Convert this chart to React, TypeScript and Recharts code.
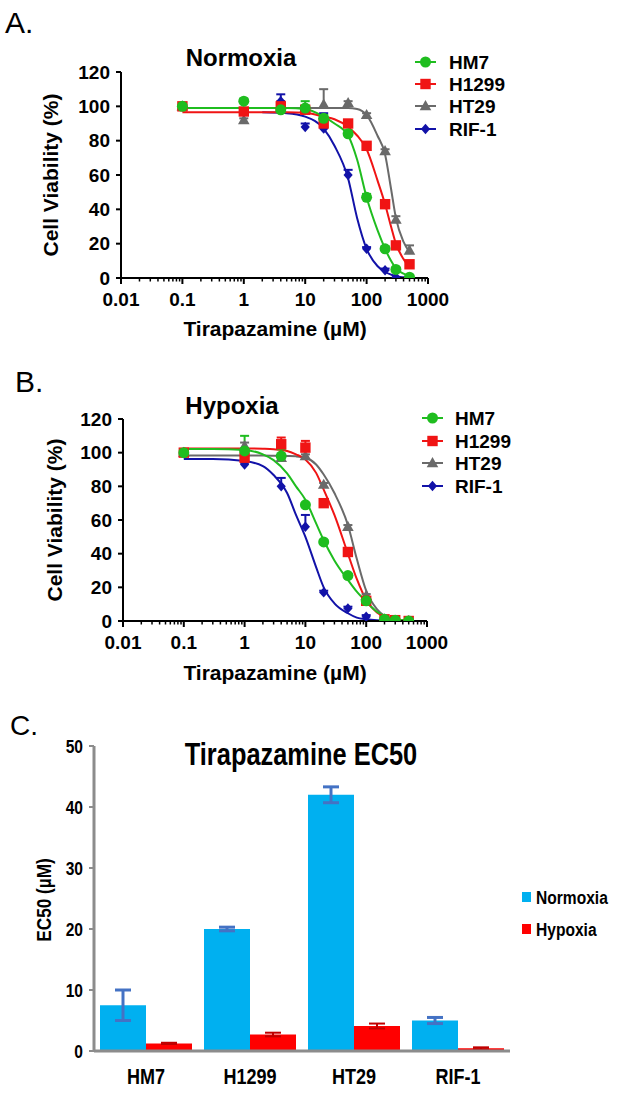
import React from 'react';
import { ComposedChart, Line, Scatter, XAxis, YAxis, ErrorBar, BarChart, Bar } from 'recharts';

const FONT = "'Liberation Sans', Arial, Helvetica, sans-serif";

// ---------- shared ----------
const cellLines = ['HM7', 'H1299', 'HT29', 'RIF-1'];
const lineColors = ['#1fbd1f', '#f01414', '#6a6a6a', '#1212a8'];
const majorTicks = [0.01, 0.1, 1, 10, 100, 1000];
const majorTickLabels = ['0.01', '0.1', '1', '10', '100', '1000'];
const minorMultipliers = [2, 3, 4, 5, 6, 7, 8, 9];
const yTicksViability = [0, 20, 40, 60, 80, 100, 120];

// ---------- measured doses (µM) ----------
const doses = [0.1, 1, 4, 10, 20, 50, 100, 200, 300, 500];

// Normoxia: mean viability (%) and upper error
const normHM7 = [100, 103, 98, 99, 93, 84, 47, 17, 5, 0.5];
const normHM7Err = [1, 1.5, 2, 4, 2, 2, 2, 1.5, 1, 0.5];
const normH1299 = [100, 97, 100, 98, 90, 90, 77, 43, 19, 8];
const normH1299Err = [0.5, 1, 3, 1, 1, 1, 1, 1, 1, 1];
const normHT29 = [100, 92, 99, 99, 101, 102, 95, 74, 34, 16];
const normHT29Err = [0.5, 1, 1, 1, 9, 1, 1, 1, 2, 3];
const normRIF1 = [100, 97, 103, 88, 87, 60, 17, 4.5, 0.5, 0];
const normRIF1Err = [0.5, 1, 4, 2, 9, 3, 1, 1, 0, 0];

// Hypoxia
const hypHM7 = [100, 101, 98, 69, 47, 27, 12, 1, 0.5, 0];
const hypHM7Err = [0.5, 9, 4, 1, 1, 1, 1, 0, 0, 0];
const hypH1299 = [100, 97, 105, 103, 70, 41, 12, 1, 0.5, 0];
const hypH1299Err = [0.5, 1, 4, 4, 1, 1, 1, 0, 0, 0];
const hypHT29 = [100, 104, 97, 98, 81, 56, 15, 1, 0, 0];
const hypHT29Err = [0.5, 2, 1, 1, 1, 1, 1, 0, 0, 0];
const hypRIF1 = [100, 93, 80, 56, 17, 7.5, 2.5, 0, 0, 0];
const hypRIF1Err = [0.5, 1, 5, 7, 1, 1, 1, 0, 0, 0];

// Fitted curves
const normCurveX = [0.1, 1, 2, 5, 10, 20, 30, 50, 70, 100, 150, 200, 250, 300, 400, 500];
const normCurveHM7 = [99, 99, 99, 99, 98.5, 94, 90, 83, 69, 47, 28, 17, 10, 5.6, 2.5, 1];
const normCurveH1299 = [96.5, 96.5, 96.5, 96.5, 96.3, 94, 92.5, 88, 83, 75, 57, 43, 30, 20, 11, 6.5];
const normCurveHT29 = [99, 99, 99, 99, 99, 99, 99, 99, 98.5, 95, 83, 72, 52, 35, 21, 15];
const normCurveRIF1 = [null, null, 96.5, 96, 94, 87, 77, 58, 35, 17, 7, 3.5, 2, 1, 0.4, 0.2];

const hypCurveX = [0.1, 0.3, 1, 2, 3, 5, 7, 10, 15, 20, 30, 50, 70, 100, 150, 200, 300, 500];
const hypCurveHM7 = [102.2, 102.2, 101.6, 99, 95.6, 87.7, 80, 72, 58, 48, 36, 24.4, 17.4, 11.5, 5.5, 3, 1, 0.3];
const hypCurveH1299 = [102.5, 102.5, 102.5, 102.3, 102, 101, 99, 96, 88, 78, 63, 40, 25, 12.5, 5, 2.5, 1, 0.3];
const hypCurveHT29 = [98.3, 98.3, 98.3, 98.3, 98.2, 98, 97.8, 97, 93, 87, 76, 57, 37, 18, 7, 3, 1, 0.3];
const hypCurveRIF1 = [96.2, 96.2, 95, 92, 86.7, 76, 63, 50, 32, 20, 10.5, 4.6, 2, 1, 0.4, 0.2, 0.1, 0];

// ---------- EC50 ----------
const ec50Categories = ['HM7', 'H1299', 'HT29', 'RIF-1'];
const ec50Normoxia = [7.5, 20, 42, 5.0];
const ec50NormoxiaErr = [2.5, 0.3, 1.3, 0.5];
const ec50Hypoxia = [1.25, 2.7, 4.1, 0.45];
const ec50HypoxiaErr = [0.1, 0.3, 0.4, 0.15];
const ec50Ticks = [0, 10, 20, 30, 40, 50];

// ---------- helpers ----------
const logTicks: number[] = [];
majorTicks.forEach((m, i) => {
  logTicks.push(m);
  if (i < majorTicks.length - 1) minorMultipliers.forEach((k) => logTicks.push(+(m * k).toPrecision(3)));
});

const points = (vals: number[], errs: number[]) =>
  doses.map((x, i) => ({ x, y: vals[i], err: [0, errs[i]] }));
const caps = (vals: number[], errs: number[]) =>
  doses.map((x, i) => ({ x, y: vals[i] + errs[i], e: errs[i] })).filter((p) => p.e > 0.6);
const curve = (xs: number[], vals: (number | null)[]) =>
  xs.map((x, i) => ({ x, y: vals[i] })).filter((p) => p.y !== null);

const shapeCircle = (c: string) => (p: any) => <circle cx={p.cx} cy={p.cy} r={5.5} fill={c} />;
const shapeSquare = (c: string) => (p: any) => <rect x={p.cx - 5.2} y={p.cy - 5.2} width={10.4} height={10.4} fill={c} />;
const shapeTriangle = (c: string) => (p: any) => (
  <polygon points={`${p.cx},${p.cy - 6} ${p.cx + 5.8},${p.cy + 4.2} ${p.cx - 5.8},${p.cy + 4.2}`} fill={c} />
);
const shapeDiamond = (c: string) => (p: any) => (
  <polygon points={`${p.cx},${p.cy - 5.2} ${p.cx + 4.6},${p.cy} ${p.cx},${p.cy + 5.2} ${p.cx - 4.6},${p.cy}`} fill={c} />
);
const shapes = [shapeCircle, shapeSquare, shapeTriangle, shapeDiamond];
const capShape = (c: string) => (p: any) => (
  <line x1={p.cx - 4.5} x2={p.cx + 4.5} y1={p.cy} y2={p.cy} stroke={c} strokeWidth={2} />
);

const LogTick = (props: any) => {
  const { x, y, payload } = props;
  const idx = majorTicks.indexOf(payload.value);
  const major = idx >= 0;
  return (
    <g>
      <line x1={x} x2={x} y1={y} y2={y + (major ? 6 : 3.5)} stroke="#000" strokeWidth={major ? 2 : 1.5} />
      {major && (
        <text x={x} y={y + 28} textAnchor="middle" fontSize={19} fontWeight="bold" fill="#000" fontFamily={FONT}>
          {majorTickLabels[idx]}
        </text>
      )}
    </g>
  );
};

// condensed bold text (narrow face emulated by horizontal scaling)
const Narrow = ({ x, y, size, anchor, rotate, children }: any) => (
  <text
    transform={`translate(${x},${y})${rotate ? ' rotate(-90)' : ''} scale(0.82,1)`}
    textAnchor={anchor || 'start'}
    fontSize={size}
    fontWeight="bold"
    fill="#000"
    fontFamily={FONT}
  >
    {children}
  </text>
);

const CatTick = (props: any) => {
  const { x, y, payload } = props;
  return (
    <Narrow x={x} y={y + 33} size={22} anchor="middle">
      {payload.value}
    </Narrow>
  );
};

const EcYTick = (props: any) => {
  const { x, y, payload } = props;
  return (
    <Narrow x={x} y={y + 6.5} size={19} anchor="end">
      {payload.value}
    </Narrow>
  );
};

type Panel = {
  curves: { x: number; y: number | null }[][];
  pts: { x: number; y: number; err: number[] }[][];
  caps: { x: number; y: number }[][];
};

const normPanel: Panel = {
  curves: [
    curve(normCurveX, normCurveHM7),
    curve(normCurveX, normCurveH1299),
    curve(normCurveX, normCurveHT29),
    curve(normCurveX, normCurveRIF1),
  ],
  pts: [
    points(normHM7, normHM7Err),
    points(normH1299, normH1299Err),
    points(normHT29, normHT29Err),
    points(normRIF1, normRIF1Err),
  ],
  caps: [
    caps(normHM7, normHM7Err),
    caps(normH1299, normH1299Err),
    caps(normHT29, normHT29Err),
    caps(normRIF1, normRIF1Err),
  ],
};
const hypPanel: Panel = {
  curves: [
    curve(hypCurveX, hypCurveHM7),
    curve(hypCurveX, hypCurveH1299),
    curve(hypCurveX, hypCurveHT29),
    curve(hypCurveX, hypCurveRIF1),
  ],
  pts: [
    points(hypHM7, hypHM7Err),
    points(hypH1299, hypH1299Err),
    points(hypHT29, hypHT29Err),
    points(hypRIF1, hypRIF1Err),
  ],
  caps: [
    caps(hypHM7, hypHM7Err),
    caps(hypH1299, hypH1299Err),
    caps(hypHT29, hypHT29Err),
    caps(hypRIF1, hypRIF1Err),
  ],
};

const drawOrder = [2, 3, 1, 0];

function ViabilityChart({ panel, margin, xHeight }: { panel: Panel; margin: any; xHeight: number }) {
  return (
    <ComposedChart width={644} height={345} margin={margin}>
      <XAxis
        dataKey="x"
        type="number"
        scale="log"
        domain={[0.01, 1000]}
        allowDataOverflow
        ticks={logTicks}
        interval={0}
        tick={<LogTick />}
        tickLine={false}
        tickSize={0}
        tickMargin={0}
        axisLine={{ stroke: '#000', strokeWidth: 2 }}
        height={xHeight}
      />
      <YAxis
        type="number"
        domain={[0, 120]}
        allowDataOverflow
        ticks={yTicksViability}
        interval={0}
        width={60}
        tickSize={5}
        tickMargin={6}
        tickLine={{ stroke: '#000', strokeWidth: 2 }}
        axisLine={{ stroke: '#000', strokeWidth: 2 }}
        tick={{ fontSize: 19, fontWeight: 'bold', fill: '#000', fontFamily: FONT }}
      />
      {drawOrder.map((i) => (
        <Line
          key={'c' + i}
          data={panel.curves[i]}
          dataKey="y"
          type="monotone"
          stroke={lineColors[i]}
          strokeWidth={2}
          dot={false}
          isAnimationActive={false}
        />
      ))}
      {drawOrder.map((i) => (
        <Scatter
          key={'e' + i}
          data={panel.caps[i]}
          dataKey="y"
          shape={capShape(lineColors[i])}
          isAnimationActive={false}
        />
      ))}
      {drawOrder.map((i) => (
        <Scatter
          key={'s' + i}
          data={panel.pts[i]}
          dataKey="y"
          shape={shapes[i](lineColors[i])}
          isAnimationActive={false}
        >
          <ErrorBar dataKey="err" direction="y" width={0} strokeWidth={2} stroke={lineColors[i]} />
        </Scatter>
      ))}
    </ComposedChart>
  );
}

const ec50Data = ec50Categories.map((c, i) => ({
  name: c,
  normoxia: ec50Normoxia[i],
  normoxiaErr: ec50NormoxiaErr[i],
  hypoxia: ec50Hypoxia[i],
  hypoxiaErr: ec50HypoxiaErr[i],
}));

function LegendLines({ x, text, rows }: { x: number; text: number; rows: number[] }) {
  return (
    <g>
      {cellLines.map((name, i) => {
        const y = rows[i];
        const cx = x + 10.5;
        const s = shapes[i](lineColors[i])({ cx, cy: y });
        return (
          <g key={name}>
            <line x1={x} x2={x + 21} y1={y} y2={y} stroke={lineColors[i]} strokeWidth={2} />
            {s}
            <text x={text} y={y + 7} fontSize={19} fontWeight="bold" fill="#000" fontFamily={FONT}>
              {name}
            </text>
          </g>
        );
      })}
    </g>
  );
}

export default function App() {
  return (
    <div style={{ position: 'absolute', left: 0, top: 0, width: 644, height: 1093, background: '#fff' }}>
      <div style={{ position: 'absolute', left: 0, top: 0 }}>
        <ViabilityChart panel={normPanel} margin={{ top: 72, right: 216, bottom: 0, left: 61 }} xHeight={67} />
      </div>
      <div style={{ position: 'absolute', left: 0, top: 330 }}>
        <ViabilityChart panel={hypPanel} margin={{ top: 89, right: 217, bottom: 0, left: 63 }} xHeight={54} />
      </div>
      <div style={{ position: 'absolute', left: 0, top: 660 }}>
        <BarChart
          width={644}
          height={433}
          data={ec50Data}
          margin={{ top: 86, right: 134, bottom: 0, left: 34 }}
          barCategoryGap={6}
          barGap={0}
        >
          <XAxis
            dataKey="name"
            tick={<CatTick />}
            tickLine={false}
            tickSize={0}
            tickMargin={0}
            axisLine={{ stroke: '#8c8c8c', strokeWidth: 3 }}
            height={42}
            interval={0}
          />
          <YAxis
            type="number"
            domain={[0, 50]}
            ticks={ec50Ticks}
            interval={0}
            width={60}
            tickSize={5}
            tickMargin={6}
            tickLine={{ stroke: '#8c8c8c', strokeWidth: 2 }}
            axisLine={{ stroke: '#8c8c8c', strokeWidth: 3 }}
            tick={<EcYTick />}
          />
          <Bar dataKey="normoxia" fill="#00b0f0" isAnimationActive={false}>
            <ErrorBar dataKey="normoxiaErr" direction="y" width={8} strokeWidth={3} stroke="#4472c4" />
          </Bar>
          <Bar dataKey="hypoxia" fill="#ff0000" isAnimationActive={false}>
            <ErrorBar dataKey="hypoxiaErr" direction="y" width={8} strokeWidth={2} stroke="#c00000" />
          </Bar>
        </BarChart>
      </div>
      <svg
        width={644}
        height={1093}
        style={{ position: 'absolute', left: 0, top: 0, pointerEvents: 'none' }}
      >
        {/* Panel A */}
        <text x={5} y={33} fontSize={30} fill="#000" fontFamily={FONT}>A.</text>
        <text x={241} y={66} textAnchor="middle" fontSize={24} fontWeight="bold" fill="#000" fontFamily={FONT}>Normoxia</text>
        <text transform="translate(58,175) rotate(-90)" textAnchor="middle" fontSize={21} fontWeight="bold" fill="#000" fontFamily={FONT}>Cell Viability (%)</text>
        <text x={275} y={336} textAnchor="middle" fontSize={21} fontWeight="bold" fill="#000" fontFamily={FONT}>Tirapazamine (µM)</text>
        <LegendLines x={415} text={449} rows={[62, 84, 106, 129]} />

        {/* Panel B */}
        <text x={15} y={392} fontSize={30} fill="#000" fontFamily={FONT}>B.</text>
        <text x={232} y={414} textAnchor="middle" fontSize={24} fontWeight="bold" fill="#000" fontFamily={FONT}>Hypoxia</text>
        <text transform="translate(62,520) rotate(-90)" textAnchor="middle" fontSize={21} fontWeight="bold" fill="#000" fontFamily={FONT}>Cell Viability (%)</text>
        <text x={275} y={680} textAnchor="middle" fontSize={21} fontWeight="bold" fill="#000" fontFamily={FONT}>Tirapazamine (µM)</text>
        <LegendLines x={422} text={455} rows={[418, 441, 463, 486]} />

        {/* Panel C */}
        <text x={10} y={735} fontSize={28} fill="#000" fontFamily={FONT}>C.</text>
        <Narrow x={301} y={765} size={31} anchor="middle">Tirapazamine EC50</Narrow>
        <Narrow x={51} y={900} size={21} anchor="middle" rotate>EC50 (µM)</Narrow>
        <rect x={522} y={892} width={9} height={10} fill="#00b0f0" />
        <Narrow x={536} y={904} size={19}>Normoxia</Narrow>
        <rect x={522} y={924} width={9} height={10} fill="#ff0000" />
        <Narrow x={536} y={936} size={19}>Hypoxia</Narrow>
      </svg>
    </div>
  );
}
